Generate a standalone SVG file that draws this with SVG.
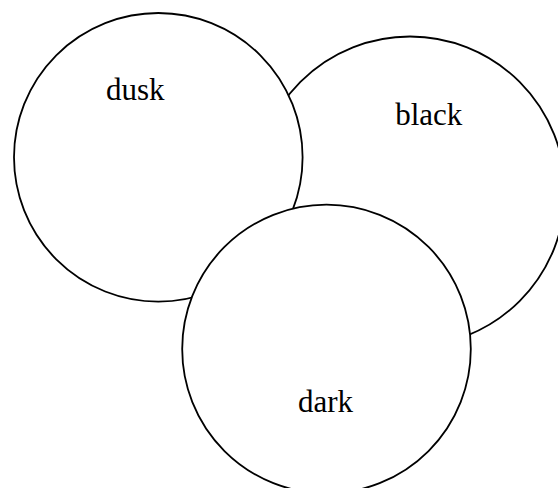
<svg xmlns="http://www.w3.org/2000/svg" width="558" height="488" viewBox="0 0 558 488">
<style>
.c{fill:#fff;stroke:#000;stroke-width:1.8}
.t{font-family:"Liberation Serif","Times New Roman",serif;font-size:31px;fill:#000;text-anchor:middle}
</style>
<rect width="558" height="488" fill="#fff"/>
<g id="black"><circle class="c" cx="410" cy="191.5" r="155"/><text class="t" x="428.7" y="125">black</text></g>
<g id="dusk"><circle class="c" cx="158.3" cy="157.3" r="144.3"/><text class="t" x="135.3" y="100">dusk</text></g>
<g id="dark"><circle class="c" cx="326.5" cy="349" r="144.3"/><text class="t" x="325.5" y="412">dark</text></g>
<g id="connectors"></g>
</svg>
